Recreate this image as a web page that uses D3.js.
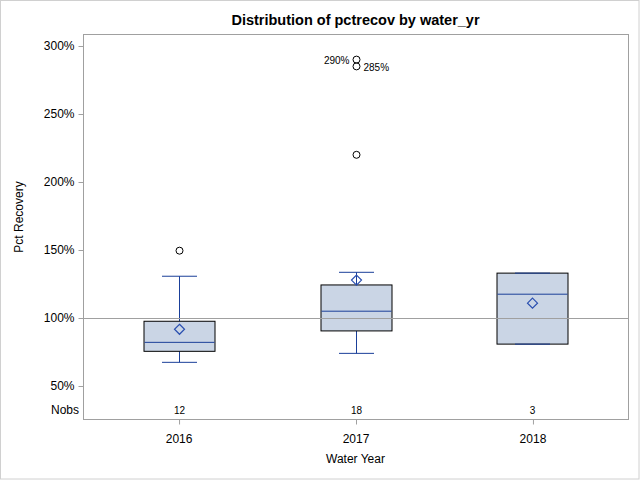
<!DOCTYPE html>
<html><head><meta charset="utf-8">
<script src="https://cdn.jsdelivr.net/npm/d3@7"></script>
<style>body{margin:0;background:#fff}svg{display:block}</style>
</head><body>
<script>
const categories = ["2016", "2017", "2018"];
const nobs = [12, 18, 3];
const q1 = [75.5, 90.5, 80.8];
const median = [82.1, 105.0, 117.5];
const q3 = [97.6, 124.3, 133.0];
const mean = [91.7, 127.9, 110.9];
const whiskerLow = [67.4, 74.0, 80.8];
const whiskerHigh = [130.7, 133.6, 133.0];
const outlierCat = ["2016", "2017", "2017", "2017"];
const outlierVal = [149.5, 220, 290, 285];
const outlierLabel = ["", "", "290%", "285%"];
const yTicks = [50, 100, 150, 200, 250, 300];
const refValue = 100;

const W = 640, H = 480;
const L = 83, R = 628, T = 34, B = 419;
const font = "'Liberation Sans', Arial, sans-serif";
const blue = "#1A3F99";

const svg = d3.select("body").append("svg").attr("width", W).attr("height", H);
svg.append("rect").attr("x", 0.5).attr("y", 0.5).attr("width", W - 1.5).attr("height", H - 1.5)
  .attr("fill", "#fff").attr("stroke", "#D0D0D0");

const x = d3.scalePoint().domain(categories).range([L, R]).padding(0.54);
const y = d3.scaleLinear().domain([50 - 33 / 1.36, 50 + (386 - T) / 1.36]).range([B, T]);

const boxW = 71, capW = 35;
const g = svg.append("g");

categories.forEach((c, i) => {
  const cx = Math.round(x(c)) + 0.5;
  g.append("line").attr("x1", cx).attr("x2", cx).attr("y1", y(q3[i])).attr("y2", y(whiskerHigh[i]))
    .attr("stroke", blue).attr("stroke-width", 1);
  g.append("line").attr("x1", cx).attr("x2", cx).attr("y1", y(q1[i])).attr("y2", y(whiskerLow[i]))
    .attr("stroke", blue).attr("stroke-width", 1);
  g.append("rect").attr("x", cx - boxW / 2).attr("y", y(q3[i])).attr("width", boxW)
    .attr("height", y(q1[i]) - y(q3[i])).attr("fill", "#CAD5E5").attr("stroke", "#000").attr("stroke-width", 1);
  [whiskerLow[i], whiskerHigh[i]].forEach(v => {
    g.append("line").attr("x1", cx - capW / 2).attr("x2", cx + capW / 2).attr("y1", y(v)).attr("y2", y(v))
      .attr("stroke", blue).attr("stroke-width", 1);
  });
  g.append("line").attr("x1", cx - boxW / 2 + 0.5).attr("x2", cx + boxW / 2 - 0.5)
    .attr("y1", y(median[i])).attr("y2", y(median[i])).attr("stroke", blue).attr("stroke-width", 1);
  const my = y(mean[i]), d = 5;
  g.append("path").attr("d", `M${cx},${my - d}L${cx + d},${my}L${cx},${my + d}L${cx - d},${my}Z`)
    .attr("fill", "none").attr("stroke", "#2A4FB0").attr("stroke-width", 1.2);
  g.append("text").attr("x", cx).attr("y", 414).attr("text-anchor", "middle")
    .attr("font-family", font).attr("font-size", 10).attr("fill", "#000").text(nobs[i]);
});

outlierVal.forEach((v, i) => {
  const cx = Math.round(x(outlierCat[i])) + 0.5;
  g.append("circle").attr("cx", cx).attr("cy", y(v)).attr("r", 3.5)
    .attr("fill", "none").attr("stroke", "#000").attr("stroke-width", 1);
  if (outlierLabel[i]) {
    const left = i === 2;
    g.append("text").attr("x", left ? cx - 7 : cx + 7).attr("y", y(v) + 4.5)
      .attr("text-anchor", left ? "end" : "start")
      .attr("font-family", font).attr("font-size", 10).attr("fill", "#000").text(outlierLabel[i]);
  }
});

svg.append("line").attr("x1", L).attr("x2", R).attr("y1", Math.round(y(refValue)) + 0.5).attr("y2", Math.round(y(refValue)) + 0.5)
  .attr("stroke", "#A0A0A0").attr("stroke-width", 1);

svg.append("rect").attr("x", L + 0.5).attr("y", T + 0.5).attr("width", R - L).attr("height", B - T)
  .attr("fill", "none").attr("stroke", "#A0A0A0");

const yAxis = svg.append("g").attr("transform", `translate(${L + 0.5},0)`)
  .call(d3.axisLeft(y).tickValues(yTicks).tickSize(5).tickFormat(d => d + "%"));
yAxis.select(".domain").remove();
yAxis.selectAll("line").attr("stroke", "#A0A0A0");
yAxis.selectAll("text").attr("font-family", font).attr("font-size", 12).attr("fill", "#000").attr("dx", "-1");

const xAxis = svg.append("g").attr("transform", `translate(0,${B + 0.5})`)
  .call(d3.axisBottom(x).tickSize(5));
xAxis.select(".domain").remove();
xAxis.selectAll("line").attr("stroke", "#A0A0A0").attr("transform", "translate(0.5,0)");
xAxis.selectAll("text").attr("font-family", font).attr("font-size", 12).attr("fill", "#000").attr("dy", "1.3em");

svg.append("text").attr("x", 79).attr("y", 414).attr("text-anchor", "end")
  .attr("font-family", font).attr("font-size", 12).attr("fill", "#000").text("Nobs");

svg.append("text").attr("x", (L + R) / 2).attr("y", 25).attr("text-anchor", "middle")
  .attr("font-family", font).attr("font-size", 14.5).attr("font-weight", "bold").attr("fill", "#000")
  .text("Distribution of pctrecov by water_yr");

svg.append("text").attr("x", (L + R) / 2).attr("y", 463).attr("text-anchor", "middle")
  .attr("font-family", font).attr("font-size", 12).attr("fill", "#000").text("Water Year");

svg.append("text").attr("transform", "translate(23,217) rotate(-90)").attr("text-anchor", "middle")
  .attr("font-family", font).attr("font-size", 12).attr("fill", "#000").text("Pct Recovery");
</script>
</body></html>
